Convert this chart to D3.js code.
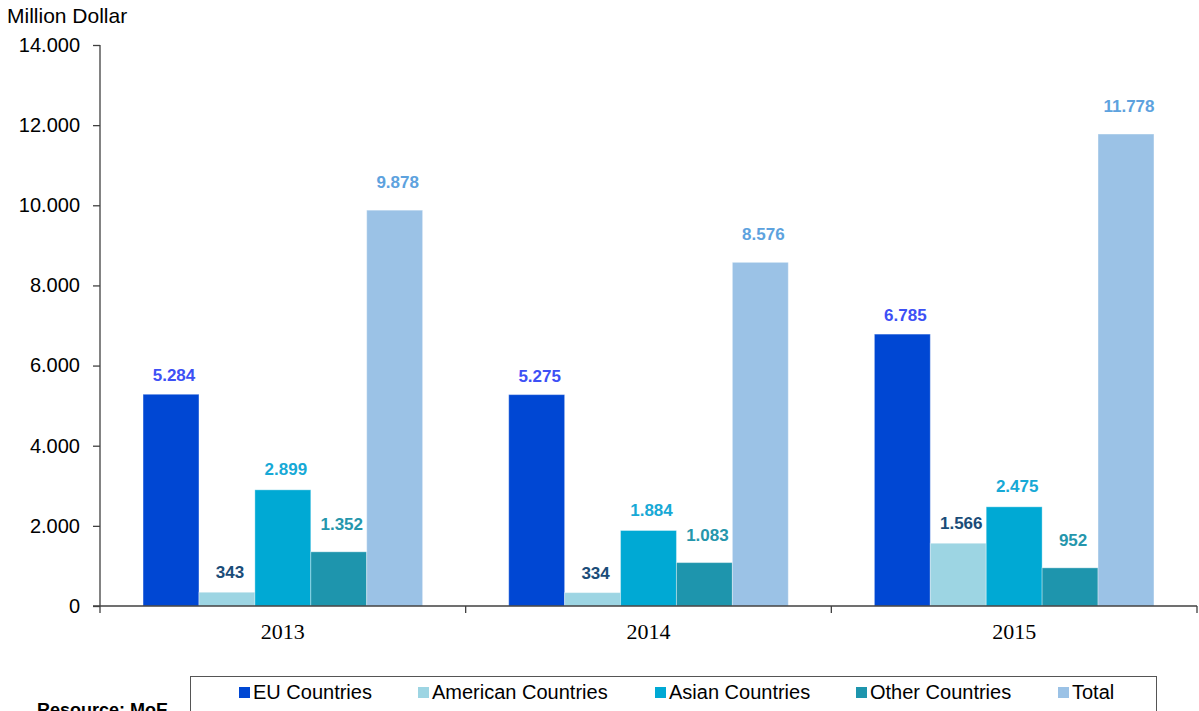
<!DOCTYPE html>
<html>
<head>
<meta charset="utf-8">
<script src="https://cdn.jsdelivr.net/npm/d3@7"></script>
<style>
  html, body { margin: 0; padding: 0; background: #fff; }
  svg { display: block; }
</style>
</head>
<body>
<svg id="chart" width="1199" height="711"></svg>
<script>
const years = ["2013", "2014", "2015"];
const seriesNames = ["EU Countries", "American Countries", "Asian Countries", "Other Countries", "Total"];
const euValues = [5284, 5275, 6785];
const americanValues = [343, 334, 1566];
const asianValues = [2899, 1884, 2475];
const otherValues = [1352, 1083, 952];
const totalValues = [9878, 8576, 11778];
const yTicks = [0, 2000, 4000, 6000, 8000, 10000, 12000, 14000];

const seriesValues = [euValues, americanValues, asianValues, otherValues, totalValues];
const barColors = ["#0047D3", "#9DD5E3", "#00A9D4", "#1E95AD", "#9BC2E6"];
const labelColors = ["#3D50F5", "#1A4C78", "#17A9D6", "#2596AC", "#5DA2DE"];
const labelGap = [13, 14, 15, 22, 22];

const svg = d3.select("#chart");
const margin = { left: 100, right: 1197, top: 45, bottom: 606 };
const sans = "Liberation Sans, Arial, sans-serif";

const fmt = d3.formatLocale({ decimal: ",", thousands: ".", grouping: [3], currency: ["", ""] }).format(",d");

const x0 = d3.scaleBand().domain(years).range([margin.left, margin.right]).paddingInner(0).paddingOuter(0);
const x1 = d3.scaleBand().domain(d3.range(seriesNames.length)).range([0, x0.bandwidth()]).paddingOuter(0.77).paddingInner(0);
const y = d3.scaleLinear().domain([0, 14000]).range([margin.bottom, margin.top]);

// bars
seriesNames.forEach((name, si) => {
  const g = svg.append("g");
  g.selectAll("rect").data(seriesValues[si]).join("rect")
    .attr("x", (d, i) => x0(years[i]) + x1(si))
    .attr("y", d => y(d))
    .attr("width", x1.bandwidth())
    .attr("height", d => y(0) - y(d))
    .attr("fill", barColors[si])
    .attr("stroke", "rgba(255,255,255,0.35)")
    .attr("stroke-width", 1);
  g.selectAll("text").data(seriesValues[si]).join("text")
    .attr("x", (d, i) => x0(years[i]) + x1(si) + x1.bandwidth() / 2 + 3)
    .attr("y", d => y(d) - labelGap[si])
    .attr("text-anchor", "middle")
    .attr("font-family", sans)
    .attr("font-weight", "bold")
    .attr("font-size", 17)
    .attr("fill", labelColors[si])
    .text(d => fmt(d));
});

// y axis
const yAxis = svg.append("g")
  .attr("transform", `translate(${margin.left},0)`)
  .call(d3.axisLeft(y).tickValues(yTicks).tickFormat(fmt).tickSizeOuter(0).tickSize(7).tickPadding(13));
yAxis.select(".domain").attr("stroke", "#404040").attr("stroke-width", 1.3)
  .attr("d", `M0,${margin.top}V${margin.bottom + 7}`);
yAxis.selectAll(".tick line").attr("stroke", "#404040").attr("stroke-width", 1.3);
yAxis.selectAll(".tick text").attr("font-family", sans).attr("font-size", 20).attr("fill", "#000");

// x axis
const xAxis = svg.append("g")
  .attr("transform", `translate(0,${margin.bottom})`)
  .call(d3.axisBottom(x0).tickSize(0).tickPadding(17));
xAxis.select(".domain").attr("stroke", "#404040").attr("stroke-width", 1.3)
  .attr("d", `M${margin.left - 7},0H${margin.right}`);
xAxis.selectAll(".tick text").attr("font-family", "Liberation Serif, Times New Roman, serif").attr("font-size", 22).attr("fill", "#000");
xAxis.selectAll(".divider").data(years).join("line")
  .attr("class", "divider")
  .attr("x1", d => x0(d) + x0.bandwidth()).attr("x2", d => x0(d) + x0.bandwidth())
  .attr("y1", 0).attr("y2", 7)
  .attr("stroke", "#404040").attr("stroke-width", 1.3);

// axis title
svg.append("text").attr("x", 7).attr("y", 23)
  .attr("font-family", sans).attr("font-size", 21).attr("fill", "#000")
  .text("Million Dollar");

// legend
svg.append("rect").attr("x", 190.5).attr("y", 676.5).attr("width", 966).attr("height", 60)
  .attr("fill", "none").attr("stroke", "#555").attr("stroke-width", 1);
const legendX = [239, 418, 655, 856, 1058];
const lg = svg.append("g");
seriesNames.forEach((name, si) => {
  lg.append("rect").attr("x", legendX[si]).attr("y", 687).attr("width", 11).attr("height", 11).attr("fill", barColors[si]);
  lg.append("text").attr("x", legendX[si] + 14).attr("y", 699)
    .attr("font-family", sans).attr("font-size", 20).attr("fill", "#000")
    .text(name);
});

svg.append("text").attr("x", 37).attr("y", 716)
  .attr("font-family", sans).attr("font-weight", "bold").attr("font-size", 18).attr("fill", "#000")
  .text("Resource: MoE");
</script>
</body>
</html>
